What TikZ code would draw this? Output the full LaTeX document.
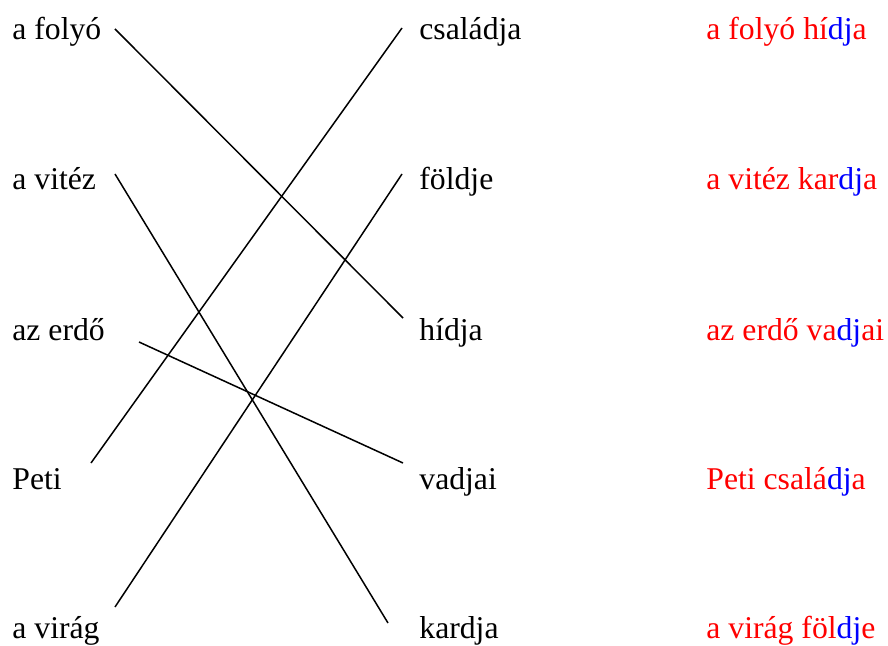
\documentclass[tikz,border=0pt]{standalone}
\usepackage{fontspec}
\setmainfont{Liberation Serif}
\newfontfamily\timesfont{Liberation Serif}
\usepackage{xcolor}
\usetikzlibrary{positioning}
\newcommand{\bluedj}{\textcolor{blue}{dj}}
\tikzset{word/.style={anchor=base west,inner sep=0pt,font=\timesfont\fontsize{15.85}{19}\selectfont},
  answer/.style={word,text=red},
  pair/.style={line width=0.75pt}}

\begin{document}
\begin{tikzpicture}[x=0.5pt,y=-0.5pt]
\useasboundingbox (0,0) rectangle (888,646);
\node[word] (folyo) at (12,40) {a folyó};
\node[word] (vitez) at (12,190) {a vitéz};
\node[word] (erdo) at (12,341) {az erdő};
\node[word] (peti) at (12,489) {Peti};
\node[word] (virag) at (12,638) {a virág};
\node[word] (csaladja) at (419,40) {családja};
\node[word] (foldje) at (419,190) {földje};
\node[word] (hidja) at (419,341) {hídja};
\node[word] (vadjai) at (419,489) {vadjai};
\node[word] (kardja) at (419,638) {kardja};
\node[answer] (a-hidja) at (706,40) {a folyó hí\bluedj a};
\node[answer] (a-kardja) at (706,190) {a vitéz kar\bluedj a};
\node[answer] (a-vadjai) at (706,341) {az erdő va\bluedj ai};
\node[answer] (a-csaladja) at (706,489) {Peti csalá\bluedj a};
\node[answer] (a-foldje) at (706,638) {a virág föl\bluedj e};
% ends of the pairing lines
\coordinate (folyo-e) at (115,29); \coordinate (vitez-e) at (115,174);
\coordinate (erdo-e) at (139,342); \coordinate (peti-e) at (91,463);
\coordinate (virag-e) at (115,607);
\coordinate (csaladja-e) at (402,28); \coordinate (foldje-e) at (402,174);
\coordinate (hidja-e) at (403,318); \coordinate (vadjai-e) at (403,463);
\coordinate (kardja-e) at (388,623);
\draw[pair] (folyo-e)--(hidja-e);
\draw[pair] (vitez-e)--(kardja-e);
\draw[pair] (erdo-e)--(vadjai-e);
\draw[pair] (peti-e)--(csaladja-e);
\draw[pair] (virag-e)--(foldje-e);
\end{tikzpicture}
\end{document}
